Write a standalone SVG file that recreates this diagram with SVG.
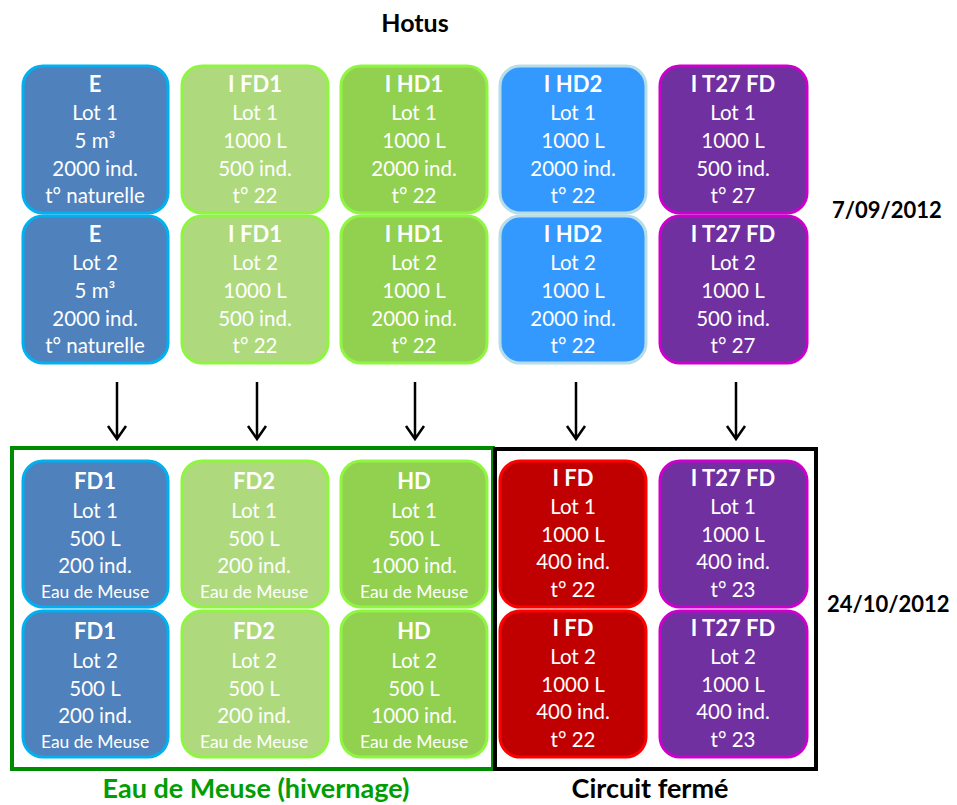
<svg xmlns="http://www.w3.org/2000/svg" width="957" height="805" viewBox="0 0 957 805">
<defs>
<style>
text{font-family:Lato,"Open Sans","Liberation Sans",sans-serif;text-anchor:middle}
.w{fill:#fff;font-size:20.5px}
.t{fill:#fff;font-size:22px;font-weight:bold}
.s{fill:#fff;font-size:17.5px}
.h{fill:#000;font-size:25px;font-weight:bold}
.d{fill:#000;font-size:22px;font-weight:bold;text-anchor:start}
.lbl{font-size:27px;font-weight:bold}
rect.b{stroke-width:3}
.e{fill:#4F81BD;stroke:#00B0F0}
.lg{fill:#AEDA7D;stroke:#8EF541}
.g{fill:#92D050;stroke:#8EF541}
.bl{fill:#3399FF;stroke:#B7DEE8}
.p{fill:#7030A0;stroke:#CC00CC}
.r{fill:#C00000;stroke:#FF0000}
.arr{stroke:#000;stroke-width:2.5;fill:none}
</style>
</defs>
<rect width="957" height="805" fill="#fff"/>
<text class="h" x="415" y="32">Hotus</text>
<text class="d" x="832" y="218">7/09/2012</text>
<text class="d" x="827" y="612">24/10/2012</text>

<g id="frames">
<rect x="12" y="448" width="481" height="321" fill="none" stroke="#008C00" stroke-width="4"/>
<rect x="495" y="449" width="321" height="320" fill="none" stroke="#000" stroke-width="4"/>
</g>

<g id="connectors">
<path class="arr" d="M117 382V439M108 426L117 439L126 426"/>
<path class="arr" d="M257 382V439M248 426L257 439L266 426"/>
<path class="arr" d="M415 382V439M406 426L415 439L424 426"/>
<path class="arr" d="M576 382V439M567 426L576 439L585 426"/>
<path class="arr" d="M736 382V439M727 426L736 439L745 426"/>
</g>

<g id="E1"><rect class="b e" x="23" y="66" width="145" height="147" rx="20"/>
<text class="t" x="95" y="92">E</text><text class="w" x="95" y="120">Lot 1</text><text class="w" x="95" y="148">5 m³</text><text class="w" x="95" y="176">2000 ind.</text><text class="w" x="95" y="203">t° naturelle</text></g>
<g id="E2"><rect class="b e" x="23" y="216" width="145" height="147" rx="20"/>
<text class="t" x="95" y="242">E</text><text class="w" x="95" y="270">Lot 2</text><text class="w" x="95" y="298">5 m³</text><text class="w" x="95" y="326">2000 ind.</text><text class="w" x="95" y="353">t° naturelle</text></g>

<g id="IFD1_1"><rect class="b lg" x="182" y="66" width="146" height="147" rx="20"/>
<text class="t" x="255" y="92">I FD1</text><text class="w" x="255" y="120">Lot 1</text><text class="w" x="255" y="148">1000 L</text><text class="w" x="255" y="176">500 ind.</text><text class="w" x="255" y="203">t° 22</text></g>
<g id="IFD1_2"><rect class="b lg" x="182" y="216" width="146" height="147" rx="20"/>
<text class="t" x="255" y="242">I FD1</text><text class="w" x="255" y="270">Lot 2</text><text class="w" x="255" y="298">1000 L</text><text class="w" x="255" y="326">500 ind.</text><text class="w" x="255" y="353">t° 22</text></g>

<g id="IHD1_1"><rect class="b g" x="341" y="66" width="146" height="147" rx="20"/>
<text class="t" x="414" y="92">I HD1</text><text class="w" x="414" y="120">Lot 1</text><text class="w" x="414" y="148">1000 L</text><text class="w" x="414" y="176">2000 ind.</text><text class="w" x="414" y="203">t° 22</text></g>
<g id="IHD1_2"><rect class="b g" x="341" y="216" width="146" height="147" rx="20"/>
<text class="t" x="414" y="242">I HD1</text><text class="w" x="414" y="270">Lot 2</text><text class="w" x="414" y="298">1000 L</text><text class="w" x="414" y="326">2000 ind.</text><text class="w" x="414" y="353">t° 22</text></g>

<g id="IHD2_1"><rect class="b bl" x="500" y="66" width="146" height="147" rx="20"/>
<text class="t" x="573" y="92">I HD2</text><text class="w" x="573" y="120">Lot 1</text><text class="w" x="573" y="148">1000 L</text><text class="w" x="573" y="176">2000 ind.</text><text class="w" x="573" y="203">t° 22</text></g>
<g id="IHD2_2"><rect class="b bl" x="500" y="216" width="146" height="147" rx="20"/>
<text class="t" x="573" y="242">I HD2</text><text class="w" x="573" y="270">Lot 2</text><text class="w" x="573" y="298">1000 L</text><text class="w" x="573" y="326">2000 ind.</text><text class="w" x="573" y="353">t° 22</text></g>

<g id="IT27_1"><rect class="b p" x="660" y="66" width="147" height="147" rx="20"/>
<text class="t" x="733" y="92">I T27 FD</text><text class="w" x="733" y="120">Lot 1</text><text class="w" x="733" y="148">1000 L</text><text class="w" x="733" y="176">500 ind.</text><text class="w" x="733" y="203">t° 27</text></g>
<g id="IT27_2"><rect class="b p" x="660" y="216" width="147" height="147" rx="20"/>
<text class="t" x="733" y="242">I T27 FD</text><text class="w" x="733" y="270">Lot 2</text><text class="w" x="733" y="298">1000 L</text><text class="w" x="733" y="326">500 ind.</text><text class="w" x="733" y="353">t° 27</text></g>

<g id="FD1_1"><rect class="b e" x="23" y="461" width="145" height="146" rx="20"/>
<text class="t" x="95" y="489">FD1</text><text class="w" x="95" y="518">Lot 1</text><text class="w" x="95" y="546">500 L</text><text class="w" x="95" y="573">200 ind.</text><text class="s" x="95" y="598">Eau de Meuse</text></g>
<g id="FD1_2"><rect class="b e" x="23" y="611" width="145" height="146" rx="20"/>
<text class="t" x="95" y="639">FD1</text><text class="w" x="95" y="668">Lot 2</text><text class="w" x="95" y="696">500 L</text><text class="w" x="95" y="723">200 ind.</text><text class="s" x="95" y="748">Eau de Meuse</text></g>

<g id="FD2_1"><rect class="b lg" x="182" y="461" width="146" height="146" rx="20"/>
<text class="t" x="254" y="489">FD2</text><text class="w" x="254" y="518">Lot 1</text><text class="w" x="254" y="546">500 L</text><text class="w" x="254" y="573">200 ind.</text><text class="s" x="254" y="598">Eau de Meuse</text></g>
<g id="FD2_2"><rect class="b lg" x="182" y="611" width="146" height="146" rx="20"/>
<text class="t" x="254" y="639">FD2</text><text class="w" x="254" y="668">Lot 2</text><text class="w" x="254" y="696">500 L</text><text class="w" x="254" y="723">200 ind.</text><text class="s" x="254" y="748">Eau de Meuse</text></g>

<g id="HD_1"><rect class="b g" x="341" y="461" width="146" height="146" rx="20"/>
<text class="t" x="414" y="489">HD</text><text class="w" x="414" y="518">Lot 1</text><text class="w" x="414" y="546">500 L</text><text class="w" x="414" y="573">1000 ind.</text><text class="s" x="414" y="598">Eau de Meuse</text></g>
<g id="HD_2"><rect class="b g" x="341" y="611" width="146" height="146" rx="20"/>
<text class="t" x="414" y="639">HD</text><text class="w" x="414" y="668">Lot 2</text><text class="w" x="414" y="696">500 L</text><text class="w" x="414" y="723">1000 ind.</text><text class="s" x="414" y="748">Eau de Meuse</text></g>

<g id="IFD_1"><rect class="b r" x="500" y="461" width="146" height="146" rx="20"/>
<text class="t" x="573" y="486">I FD</text><text class="w" x="573" y="514">Lot 1</text><text class="w" x="573" y="542">1000 L</text><text class="w" x="573" y="569">400 ind.</text><text class="w" x="573" y="597">t° 22</text></g>
<g id="IFD_2"><rect class="b r" x="500" y="611" width="146" height="146" rx="20"/>
<text class="t" x="573" y="636">I FD</text><text class="w" x="573" y="664">Lot 2</text><text class="w" x="573" y="692">1000 L</text><text class="w" x="573" y="719">400 ind.</text><text class="w" x="573" y="747">t° 22</text></g>

<g id="IT27B_1"><rect class="b p" x="660" y="461" width="147" height="146" rx="20"/>
<text class="t" x="733" y="486">I T27 FD</text><text class="w" x="733" y="514">Lot 1</text><text class="w" x="733" y="542">1000 L</text><text class="w" x="733" y="569">400 ind.</text><text class="w" x="733" y="597">t° 23</text></g>
<g id="IT27B_2"><rect class="b p" x="660" y="611" width="147" height="146" rx="20"/>
<text class="t" x="733" y="636">I T27 FD</text><text class="w" x="733" y="664">Lot 2</text><text class="w" x="733" y="692">1000 L</text><text class="w" x="733" y="719">400 ind.</text><text class="w" x="733" y="747">t° 23</text></g>

<text class="lbl" x="256" y="798" fill="#009E00">Eau de Meuse (hivernage)</text>
<text class="lbl" x="650" y="798" fill="#000">Circuit fermé</text>
</svg>
